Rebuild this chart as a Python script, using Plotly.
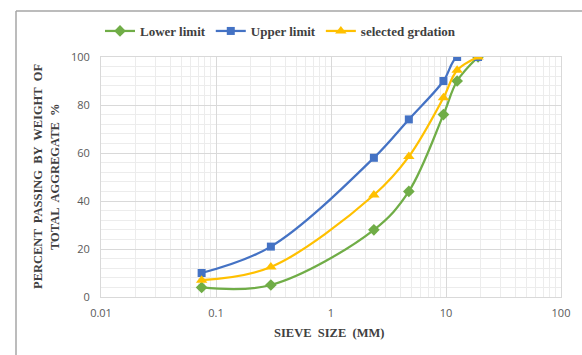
import plotly.graph_objects as go

sieve_mm = [0.075, 0.3, 2.36, 4.75, 9.5, 12.5, 19]
lower_limit = [4, 5, 28, 44, 76, 90, 100]
upper_limit = [10, 21, 58, 74, 90, 100, 100]
selected = [7, 12.5, 42.5, 58.5, 83, 94.5, 100]

x_ticks = [0.01, 0.1, 1, 10, 100]
x_tick_labels = ["0.01", "0.1", "1", "10", "100"]
y_ticks = [0, 20, 40, 60, 80, 100]

W, H = 582, 355
L, R, T, B = 101, 21, 57, 58
pw, ph = W - L - R, H - T - B

def px_x(p):
    return (p - L) / pw

def px_y(p):
    return 1 - (p - T) / ph

fig = go.Figure()
series = [
    ("Lower limit", lower_limit, "#70AD47", "diamond", 9),
    ("Upper limit", upper_limit, "#4472C4", "square", 8),
    ("selected grdation", selected, "#FFC000", "triangle-up", 10),
]
for name, vals, col, sym, sz in series:
    fig.add_trace(go.Scatter(
        x=sieve_mm, y=vals, name=name, mode="lines+markers",
        line=dict(color=col, width=2.25, shape="spline", smoothing=1.0),
        marker=dict(symbol=sym, size=sz, color=col),
    ))

grid_major = "#d9d9d9"
grid_minor = "#ececec"
tick_font = dict(family="Open Sans, Liberation Sans, sans-serif", size=11, color="#595959")
title_font = dict(family="Liberation Serif, serif", size=12.5, color="#404040")

fig.update_layout(
    width=W, height=H,
    margin=dict(l=L, r=R, t=T, b=B, autoexpand=False),
    paper_bgcolor="white", plot_bgcolor="white",
    showlegend=True,
    legend=dict(
        orientation="h", x=px_x(100), xanchor="left", y=px_y(31), yanchor="middle",
        font=dict(family="Liberation Serif, serif", size=13, color="#404040", weight="bold"),
        itemwidth=30, tracegroupgap=0, bgcolor="rgba(0,0,0,0)",
    ),
    xaxis=dict(
        type="log", range=[-2, 2], tickvals=x_ticks, ticktext=x_tick_labels,
        showgrid=True, gridcolor=grid_major, gridwidth=1,
        minor=dict(dtick="D1", showgrid=True, gridcolor=grid_minor, gridwidth=1, ticks=""),
        showline=True, linecolor=grid_major, linewidth=1, mirror=True,
        ticks="", tickfont=tick_font, zeroline=False, ticklabelstandoff=6,
    ),
    yaxis=dict(
        range=[0, 100], tickvals=y_ticks,
        showgrid=True, gridcolor=grid_major, gridwidth=1,
        minor=dict(dtick=4, showgrid=True, gridcolor=grid_minor, gridwidth=1, ticks=""),
        showline=True, linecolor=grid_major, linewidth=1, mirror=True,
        ticks="", tickfont=tick_font, zeroline=False, ticklabelstandoff=8,
    ),
    annotations=[
        dict(text="<b>SIEVE  SIZE  (MM)</b>", xref="paper", yref="paper",
             x=px_x(329), y=px_y(333), showarrow=False, font=title_font,
             xanchor="center", yanchor="middle"),
        dict(text="<b>PERCENT  PASSING  BY  WEIGHT  OF</b>", xref="paper", yref="paper",
             x=px_x(38), y=px_y(177), showarrow=False, font=title_font, textangle=-90,
             xanchor="center", yanchor="middle"),
        dict(text="<b>TOTAL  AGGREGATE  %</b>", xref="paper", yref="paper",
             x=px_x(55), y=px_y(177), showarrow=False, font=title_font, textangle=-90,
             xanchor="center", yanchor="middle"),
    ],
    shapes=[
        dict(type="line", xref="paper", yref="paper", x0=px_x(16), x1=px_x(16),
             y0=px_y(11), y1=px_y(360), line=dict(color="#a6a6a6", width=1.5)),
        dict(type="line", xref="paper", yref="paper", x0=px_x(16), x1=px_x(590),
             y0=px_y(11), y1=px_y(11), line=dict(color="#a6a6a6", width=1.5)),
    ],
)

fig.write_html("out.html", post_script="document.body.style.margin='0';",
               config={"displayModeBar": False})
